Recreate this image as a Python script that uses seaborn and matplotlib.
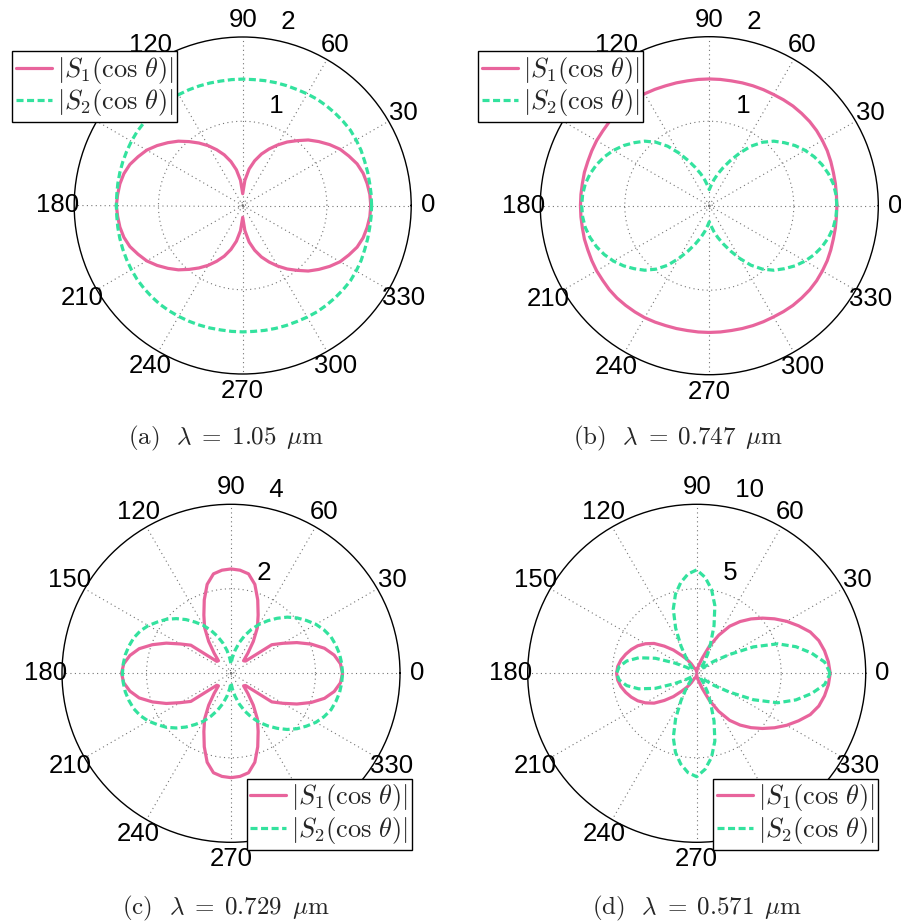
import numpy as np
import matplotlib
matplotlib.use("Agg")
import matplotlib.pyplot as plt
import seaborn as sns

# ---------------- data ----------------
angles_deg = np.arange(0, 361, 5)

s1_a = [1.52, 1.515, 1.50, 1.48, 1.445, 1.39, 1.335, 1.26, 1.18, 1.10, 1.005, 0.92, 0.83, 0.74, 0.65, 0.55, 0.44, 0.30, 0.14,
        0.30, 0.43, 0.54, 0.64, 0.73, 0.82, 0.905, 0.99, 1.08, 1.16, 1.24, 1.315, 1.37, 1.425, 1.46, 1.48, 1.49, 1.50,
        1.49, 1.48, 1.46, 1.425, 1.37, 1.315, 1.24, 1.16, 1.08, 0.99, 0.905, 0.82, 0.73, 0.64, 0.54, 0.43, 0.30, 0.14,
        0.30, 0.44, 0.55, 0.65, 0.74, 0.83, 0.92, 1.005, 1.10, 1.18, 1.26, 1.335, 1.39, 1.445, 1.48, 1.50, 1.515, 1.52]
s2_a = [1.53, 1.53, 1.53, 1.535, 1.54, 1.55, 1.555, 1.56, 1.555, 1.55, 1.545, 1.54, 1.53, 1.52, 1.515, 1.51, 1.505, 1.50, 1.50,
        1.50, 1.50, 1.505, 1.51, 1.515, 1.52, 1.525, 1.53, 1.53, 1.53, 1.53, 1.525, 1.52, 1.515, 1.51, 1.505, 1.50, 1.50,
        1.50, 1.505, 1.51, 1.515, 1.52, 1.525, 1.53, 1.53, 1.53, 1.53, 1.525, 1.52, 1.515, 1.51, 1.505, 1.50, 1.50, 1.50,
        1.50, 1.505, 1.51, 1.515, 1.52, 1.53, 1.54, 1.545, 1.55, 1.555, 1.56, 1.555, 1.55, 1.54, 1.535, 1.53, 1.53, 1.53]

s1_b = [1.51, 1.51, 1.515, 1.52, 1.53, 1.54, 1.545, 1.55, 1.55, 1.545, 1.54, 1.53, 1.52, 1.515, 1.51, 1.505, 1.50, 1.50, 1.50,
        1.50, 1.50, 1.505, 1.51, 1.52, 1.53, 1.535, 1.54, 1.545, 1.545, 1.54, 1.54, 1.535, 1.53, 1.53, 1.525, 1.525, 1.525,
        1.525, 1.525, 1.53, 1.53, 1.535, 1.54, 1.54, 1.545, 1.545, 1.54, 1.535, 1.53, 1.52, 1.51, 1.505, 1.50, 1.50, 1.50,
        1.50, 1.50, 1.505, 1.51, 1.515, 1.52, 1.53, 1.54, 1.545, 1.55, 1.55, 1.545, 1.54, 1.53, 1.52, 1.515, 1.51, 1.51]
s2_b = [1.51, 1.505, 1.49, 1.46, 1.42, 1.37, 1.31, 1.24, 1.16, 1.08, 0.98, 0.86, 0.72, 0.59, 0.48, 0.39, 0.31, 0.24, 0.19,
        0.24, 0.31, 0.39, 0.48, 0.59, 0.72, 0.86, 0.98, 1.08, 1.16, 1.24, 1.31, 1.37, 1.42, 1.46, 1.49, 1.505, 1.51,
        1.505, 1.49, 1.46, 1.42, 1.37, 1.31, 1.24, 1.16, 1.08, 0.98, 0.86, 0.72, 0.59, 0.48, 0.39, 0.31, 0.24, 0.19,
        0.24, 0.31, 0.39, 0.48, 0.59, 0.72, 0.86, 0.98, 1.08, 1.16, 1.24, 1.31, 1.37, 1.42, 1.46, 1.49, 1.505, 1.51]

s1_c = [2.64, 2.60, 2.48, 2.29, 2.02, 1.72, 1.42, 1.18, 0.45, 0.42, 0.62, 0.92, 1.25, 1.52, 1.85, 2.18, 2.39, 2.45, 2.47,
        2.45, 2.39, 2.18, 1.85, 1.52, 1.25, 0.92, 0.62, 0.42, 0.44, 1.16, 1.39, 1.69, 1.98, 2.25, 2.43, 2.55, 2.59,
        2.55, 2.43, 2.25, 1.98, 1.69, 1.39, 1.16, 0.44, 0.42, 0.62, 0.92, 1.25, 1.52, 1.85, 2.18, 2.39, 2.45, 2.47,
        2.45, 2.39, 2.18, 1.85, 1.52, 1.25, 0.92, 0.62, 0.42, 0.45, 1.18, 1.42, 1.72, 2.02, 2.29, 2.48, 2.60, 2.64]
s2_c = [2.64, 2.63, 2.61, 2.57, 2.52, 2.43, 2.32, 2.18, 2.04, 1.88, 1.70, 1.52, 1.34, 1.15, 0.95, 0.75, 0.55, 0.37, 0.22,
        0.37, 0.55, 0.74, 0.93, 1.12, 1.31, 1.48, 1.66, 1.83, 1.99, 2.12, 2.26, 2.37, 2.45, 2.50, 2.54, 2.56, 2.57,
        2.56, 2.54, 2.50, 2.45, 2.37, 2.26, 2.12, 1.99, 1.83, 1.66, 1.48, 1.31, 1.12, 0.93, 0.74, 0.55, 0.37, 0.22,
        0.37, 0.55, 0.75, 0.95, 1.15, 1.34, 1.52, 1.70, 1.88, 2.04, 2.18, 2.32, 2.43, 2.52, 2.57, 2.61, 2.63, 2.64]

s1_d = [7.90, 7.82, 7.68, 7.48, 7.15, 6.65, 6.15, 5.62, 5.08, 4.55, 4.00, 3.40, 2.60, 1.75, 0.95, 0.50, 0.33, 0.18, 0.08,
        0.10, 0.18, 0.25, 0.30, 0.35, 0.65, 1.00, 1.38, 1.95, 2.50, 3.08, 3.50, 3.85, 4.12, 4.35, 4.55, 4.69, 4.74,
        4.69, 4.55, 4.35, 4.12, 3.85, 3.50, 3.08, 2.50, 1.95, 1.38, 1.00, 0.65, 0.35, 0.30, 0.25, 0.18, 0.10, 0.08,
        0.18, 0.33, 0.50, 0.95, 1.75, 2.60, 3.40, 4.00, 4.55, 5.08, 5.62, 6.15, 6.65, 7.15, 7.48, 7.68, 7.82, 7.90]
s2_d = [7.90, 7.60, 6.90, 6.08, 5.10, 3.70, 2.20, 1.25, 0.60, 0.35, 0.38, 0.72, 1.28, 1.95, 3.00, 4.15, 5.05, 5.70, 6.12,
        5.90, 5.45, 4.85, 4.05, 2.95, 1.85, 1.05, 0.55, 0.35, 0.32, 0.38, 0.75, 1.45, 2.60, 3.55, 4.20, 4.60, 4.74,
        4.60, 4.20, 3.55, 2.60, 1.45, 0.75, 0.38, 0.32, 0.35, 0.55, 1.05, 1.85, 2.95, 4.05, 4.85, 5.45, 5.90, 6.12,
        5.70, 5.05, 4.15, 3.00, 1.95, 1.28, 0.72, 0.38, 0.35, 0.60, 1.25, 2.20, 3.70, 5.10, 6.08, 6.90, 7.60, 7.90]

r_max = [2, 2, 4, 10]
captions = [r"(a)  $\lambda\;=\;1.05\ \,\mu$m", r"(b)  $\lambda\;=\;0.747\ \,\mu$m",
            r"(c)  $\lambda\;=\;0.729\ \,\mu$m", r"(d)  $\lambda\;=\;0.571\ \,\mu$m"]
legend_labels = [r"$|S_1(\cos\,\theta)|$", r"$|S_2(\cos\,\theta)|$"]
theta_ticks = list(range(0, 360, 30))

# ---------------- style ----------------
sns.set_theme(style="white")
plt.rcParams['font.family'] = ['Liberation Sans', 'DejaVu Sans']
plt.rcParams['mathtext.fontset'] = 'cm'

PINK = '#E8649C'
GREEN = '#33E29E'
FS = 18.5

W, H = 901, 924
fig = plt.figure(figsize=(W / 100, H / 100), dpi=100)
fig.patch.set_facecolor('white')

# layout in pixels: centre x, centre y, radius, caption pos, legend upper-left corner
layout = [
    dict(cx=242.7, cy=205.5, R=168.5, capx=226, capy=438, leg=(12, 51)),
    dict(cx=709.3, cy=205.7, R=169.0, capx=678, capy=438, leg=(478, 51)),
    dict(cx=231.0, cy=673.3, R=169.0, capx=226, capy=908, leg=(246.5, 778.5)),
    dict(cx=696.7, cy=673.3, R=169.0, capx=697, capy=908, leg=(713, 778.5)),
]
series = [(s1_a, s2_a), (s1_b, s2_b), (s1_c, s2_c), (s1_d, s2_d)]

theta = np.deg2rad(angles_deg)

for k in range(4):
    L = layout[k]
    rmax = r_max[k]
    R = L['R']
    ax = fig.add_axes([(L['cx'] - R) / W, 1 - (L['cy'] + R) / H, 2 * R / W, 2 * R / H],
                      projection='polar')
    ax.set_facecolor('white')
    ax.grid(False)
    ax.set_xticks([])
    ax.set_yticks([])
    ax.set_ylim(0, rmax)
    ax.spines['polar'].set_color('black')
    ax.spines['polar'].set_linewidth(1.0)

    # dotted grid (MATLAB polar style)
    gkw = dict(color='0.45', linewidth=0.8, linestyle=(0, (1, 3)), zorder=1)
    for a in theta_ticks:
        ax.plot([np.deg2rad(a), np.deg2rad(a)], [0, rmax], **gkw)
    circ = np.linspace(0, 2 * np.pi, 300)
    ax.plot(circ, np.full_like(circ, rmax / 2), **gkw)
    ax.plot(circ, np.full_like(circ, rmax * 0.017), **gkw)

    s1, s2 = series[k]
    sns.lineplot(x=theta, y=s1, ax=ax, sort=False, estimator=None, color=PINK,
                 linewidth=2.3, legend=False, zorder=3)
    h1 = ax.lines[-1]
    sns.lineplot(x=theta, y=s2, ax=ax, sort=False, estimator=None, color=GREEN,
                 linewidth=2.3, linestyle=(0, (2.2, 1.1)), legend=False, zorder=4)
    h2 = ax.lines[-1]
    ax.set_xlabel('')
    ax.set_ylabel('')

    # angle labels
    for a in theta_ticks:
        ax.text(np.deg2rad(a), 1.1 * rmax, str(a), ha='center', va='center',
                fontsize=FS, clip_on=False, color='black')
    # ring labels
    rinc = rmax / 2
    for i in (rinc, rmax):
        ax.text(np.deg2rad(82), i + rinc / 20, '  ' + ('%g' % i), ha='left', va='bottom',
                fontsize=FS, clip_on=False, color='black')

    lx, ly = L['leg']
    leg = ax.legend([h1, h2], legend_labels, loc='upper left',
                    bbox_to_anchor=(lx / W, 1 - ly / H), bbox_transform=fig.transFigure,
                    borderaxespad=0, frameon=True, fancybox=False, framealpha=1,
                    edgecolor='black', fontsize=19, handlelength=1.35,
                    handletextpad=0.2, borderpad=0.15, labelspacing=0.05)
    leg.get_frame().set_linewidth(1.0)
    leg.set_zorder(10)

    fig.text(L['capx'] / W, 1 - L['capy'] / H, captions[k], ha='center', va='center',
             fontsize=18, fontfamily='cmr10')

fig.savefig('out.png', dpi=100, facecolor='white')
